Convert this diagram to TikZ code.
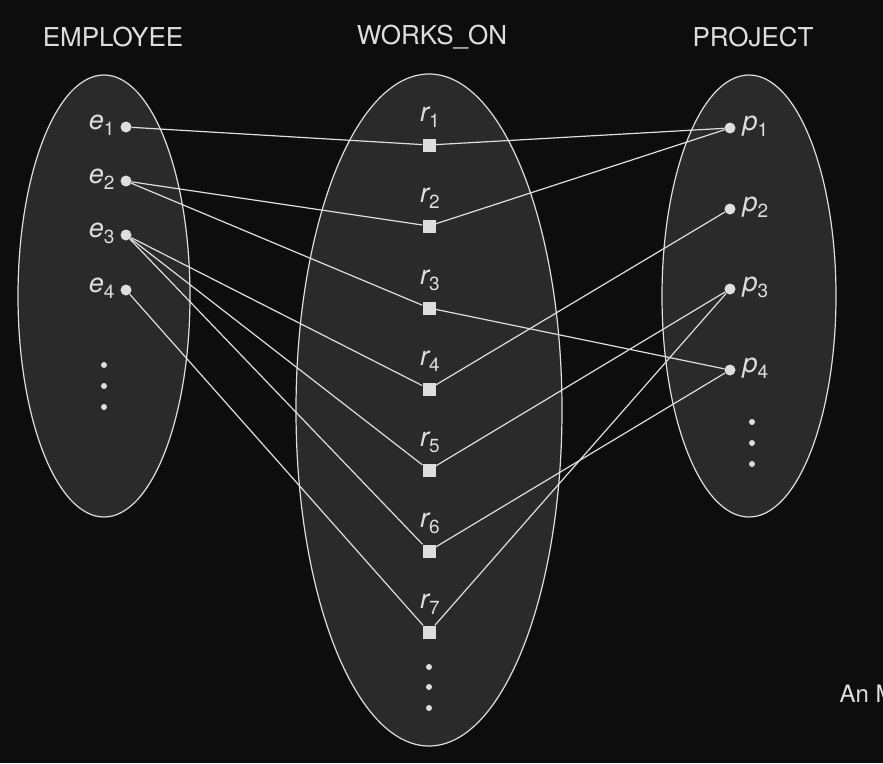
\documentclass[tikz,border=0pt]{standalone}
\usepackage{fontspec}
\setmainfont{TeX Gyre Heros}
\begin{document}
\begin{tikzpicture}[x=1pt,y=-1pt,
  set/.style={draw=fg, fill=setfill, line width=1.2pt},
  ent/.style={circle, fill=fg, inner sep=0pt, minimum size=11pt},
  rel/.style={rectangle, fill=fg, inner sep=0pt, minimum size=13pt},
  vdot/.style={circle, fill=fg, inner sep=0pt, minimum size=6pt},
  link/.style={draw=fg, line width=1.2pt},
  head/.style={text=fg, font=\fontsize{26}{30}\selectfont},
  lab/.style={text=fg, font=\fontsize{27}{30}\selectfont\itshape},
]
\definecolor{bg}{HTML}{0D0D0D}
\definecolor{setfill}{HTML}{2A2A2A}
\definecolor{fg}{HTML}{DEDEDE}
\newcommand{\sub}[2]{#1\raisebox{-6pt}{\fontsize{19}{21}\selectfont\upshape #2}}

\clip (0,0) rectangle (883,763);
\useasboundingbox (0,0) rectangle (883,763);
\fill[bg] (0,0) rectangle (883,763);

% entity sets
\draw[set] (104,296) ellipse [x radius=86, y radius=221];
\draw[set] (429,410) ellipse [x radius=133, y radius=336];
\draw[set] (749,296) ellipse [x radius=87, y radius=221];

% headings
\node[head] (hemp) at (113,37) {EMPLOYEE};
\node[head] (hwo)  at (432,37) {WORKS\_ON};
\node[head] (hpr)  at (753,37) {PROJECT};

% employees
\foreach \i/\y in {1/127,2/181,3/235,4/290}{
  \node[ent] (e\i) at (126,\y) {};
  \node[lab, anchor=east] (le\i) at (118,\y-2) {\sub{e}{\i}};
}
\node[vdot] (ed1) at (104,365) {};
\node[vdot] (ed2) at (104,386) {};
\node[vdot] (ed3) at (104,407) {};

% relationship instances
\foreach \i/\y in {1/145,2/226,3/308,4/389,5/470,6/551,7/632}{
  \node[lab] (lr\i) at (430,\y-28) {\sub{r}{\i}};
  \node[rel] (r\i) at (429,\y) {};
}
\node[vdot] (rd1) at (429,667) {};
\node[vdot] (rd2) at (429,687) {};
\node[vdot] (rd3) at (429,708) {};

% projects
\foreach \i/\y in {1/128,2/209,3/289,4/370}{
  \node[ent] (p\i) at (730,\y) {};
  \node[lab, anchor=west] (lp\i) at (739,\y-2) {\sub{p}{\i}};
}
\node[vdot] (pd1) at (752,422) {};
\node[vdot] (pd2) at (752,443) {};
\node[vdot] (pd3) at (752,464) {};

% participation links
\foreach \e/\r/\p in {1/1/1, 2/2/1, 2/3/4, 3/4/2, 3/5/3, 3/6/4, 4/7/3}{
  \draw[link] (e\e) -- (r\r);
  \draw[link] (r\r) -- (p\p);
}

\node[head, anchor=base west, font=\fontsize{24}{28}\selectfont] (cap) at (836,702) {An M};
\end{tikzpicture}
\end{document}
